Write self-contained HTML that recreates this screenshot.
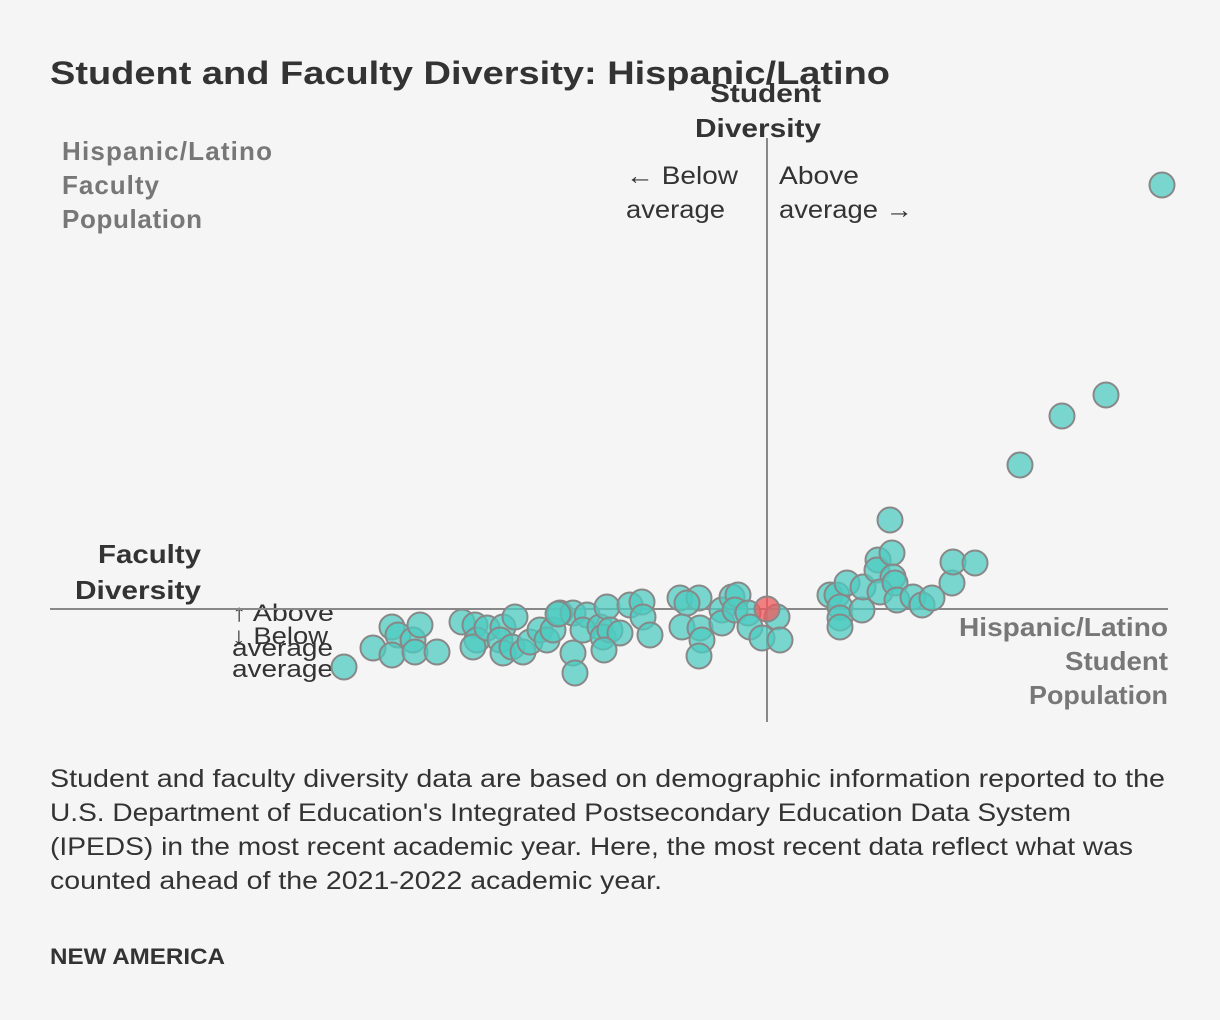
<!DOCTYPE html>
<html><head><meta charset="utf-8"><style>
body{margin:0;background:#f5f5f5;width:1220px;height:1020px;overflow:hidden;font-family:"Liberation Sans",sans-serif;}
svg{position:absolute;left:0;top:0}
</style></head><body>
<svg width="1220" height="1020">
<text x="50" y="84" font-size="32" font-weight="bold" fill="#333" textLength="840" lengthAdjust="spacingAndGlyphs">Student and Faculty Diversity: Hispanic/Latino</text>
<g font-size="26" font-weight="bold" fill="#777" lengthAdjust="spacingAndGlyphs">
<text x="62" y="160" textLength="210">Hispanic/Latino</text><text x="62" y="194" textLength="97">Faculty</text><text x="62" y="228" textLength="140">Population</text></g>
<g font-size="26" font-weight="bold" fill="#333">
<text x="710" y="102" textLength="111" lengthAdjust="spacingAndGlyphs">Student</text><text x="695" y="137" textLength="126" lengthAdjust="spacingAndGlyphs">Diversity</text></g>
<g font-size="25" fill="#333"><text x="626" y="184" textLength="112" lengthAdjust="spacingAndGlyphs">← Below</text><text x="626" y="218" textLength="99" lengthAdjust="spacingAndGlyphs">average</text></g>
<g font-size="25" fill="#333"><text x="779" y="184" textLength="80" lengthAdjust="spacingAndGlyphs">Above</text><text x="779" y="218" textLength="134" lengthAdjust="spacingAndGlyphs">average →</text></g>
<g font-size="26" font-weight="bold" fill="#333">
<text x="98" y="563" textLength="103" lengthAdjust="spacingAndGlyphs">Faculty</text><text x="75" y="599" textLength="126" lengthAdjust="spacingAndGlyphs">Diversity</text></g>
<g font-size="24" fill="#333">
<text x="232" y="621" textLength="102" lengthAdjust="spacingAndGlyphs">↑ Above</text><text x="232" y="644" textLength="96" lengthAdjust="spacingAndGlyphs">↓ Below</text><text x="232" y="656" textLength="101" lengthAdjust="spacingAndGlyphs">average</text><text x="232" y="677" textLength="101" lengthAdjust="spacingAndGlyphs">average</text></g>
<g font-size="26" font-weight="bold" fill="#777">
<text x="959" y="636" textLength="209" lengthAdjust="spacingAndGlyphs">Hispanic/Latino</text><text x="1065" y="670" textLength="103" lengthAdjust="spacingAndGlyphs">Student</text><text x="1029" y="704" textLength="139" lengthAdjust="spacingAndGlyphs">Population</text></g>
<line x1="50" x2="1168" y1="609" y2="609" stroke="#888" stroke-width="2"/>
<line x1="767" x2="767" y1="138" y2="722" stroke="#888" stroke-width="2"/>
<g id="pts"></g>
<g font-size="25" fill="#333">
<text x="50" y="787" textLength="1115" lengthAdjust="spacingAndGlyphs">Student and faculty diversity data are based on demographic information reported to the</text>
<text x="50" y="821" textLength="1021" lengthAdjust="spacingAndGlyphs">U.S. Department of Education's Integrated Postsecondary Education Data System</text>
<text x="50" y="855" textLength="1083" lengthAdjust="spacingAndGlyphs">(IPEDS) in the most recent academic year. Here, the most recent data reflect what was</text>
<text x="50" y="889" textLength="612" lengthAdjust="spacingAndGlyphs">counted ahead of the 2021-2022 academic year.</text></g>
<text x="50" y="964" font-size="22" font-weight="bold" fill="#333" textLength="175" lengthAdjust="spacingAndGlyphs">NEW AMERICA</text>
</svg>
<script>
const studentDiff=[-42.3,-39.4,-37.5,-36.9,-37.5,-35.4,-34.7,-35.2,-33.0,-30.5,-29.2,-29.0,-29.4,-28.0,-26.4,-26.7,-26.4,-25.2,-25.5,-24.4,-23.7,-22.7,-22.0,-21.4,-20.7,-19.4,-18.0,-18.4,-16.7,-16.0,-16.4,-15.7,-14.7,-13.7,-12.5,-12.4,-11.7,-19.4,-19.2,-16.3,-20.9,
-8.7,-6.8,-8.0,-8.5,-6.7,-6.5,-6.8,-4.5,-4.5,-3.5,-2.9,-3.2,-1.9,-1.7,1.0,-0.5,1.3,6.3,7.0,8.0,7.3,7.3,7.3,9.5,9.6,11.1,11.0,12.3,12.5,12.6,11.3,12.8,13.0,14.6,15.5,16.5,18.5,18.6,20.8,25.3,29.5,33.9,39.5];
const facultyDiff=[-5.8,-3.9,-1.8,-2.6,-4.6,-3.1,-1.6,-4.3,-4.3,-1.3,-1.6,-3.1,-3.8,-1.9,-1.8,-3.1,-4.4,-0.8,-3.8,-4.3,-3.3,-2.1,-3.1,-2.1,-0.4,-0.4,-0.6,-2.1,-1.8,0.2,-2.8,-2.1,-2.4,0.4,0.7,-0.8,-2.6,-4.4,-6.4,-4.1,-0.5,
1.1,1.1,0.6,-1.8,-1.9,-3.1,-4.7,-0.1,-1.4,1.2,1.4,-0.1,-0.4,-1.8,-0.8,-2.9,-3.1,1.4,1.4,2.6,0.2,-0.9,-1.8,-0.1,2.2,4.9,3.9,8.9,5.6,3.2,1.7,2.6,0.9,1.2,0.4,1.1,2.6,4.7,4.6,14.4,19.3,21.4,42.4];
const highlightX=[0];
const highlightY=[0];
const xScale=v=>767+v*10;
const yScale=v=>609-v*10;
const g=document.getElementById('pts');
const NS='http://www.w3.org/2000/svg';
function dot(x,y,fill,name){
  const c=document.createElementNS(NS,'circle');
  c.setAttribute('cx',xScale(x));c.setAttribute('cy',yScale(y));c.setAttribute('r',12.5);
  c.setAttribute('fill',fill);c.setAttribute('fill-opacity','0.75');
  c.setAttribute('stroke','#888');c.setAttribute('stroke-width','2');
  
  
  g.appendChild(c);
}
for(let i=0;i<studentDiff.length;i++){dot(studentDiff[i],facultyDiff[i],'#4ecbc0','institution-point');}
for(let i=0;i<highlightX.length;i++){dot(highlightX[i],highlightY[i],'#f0585c','highlighted-institution-point');}
</script>
</body></html>
